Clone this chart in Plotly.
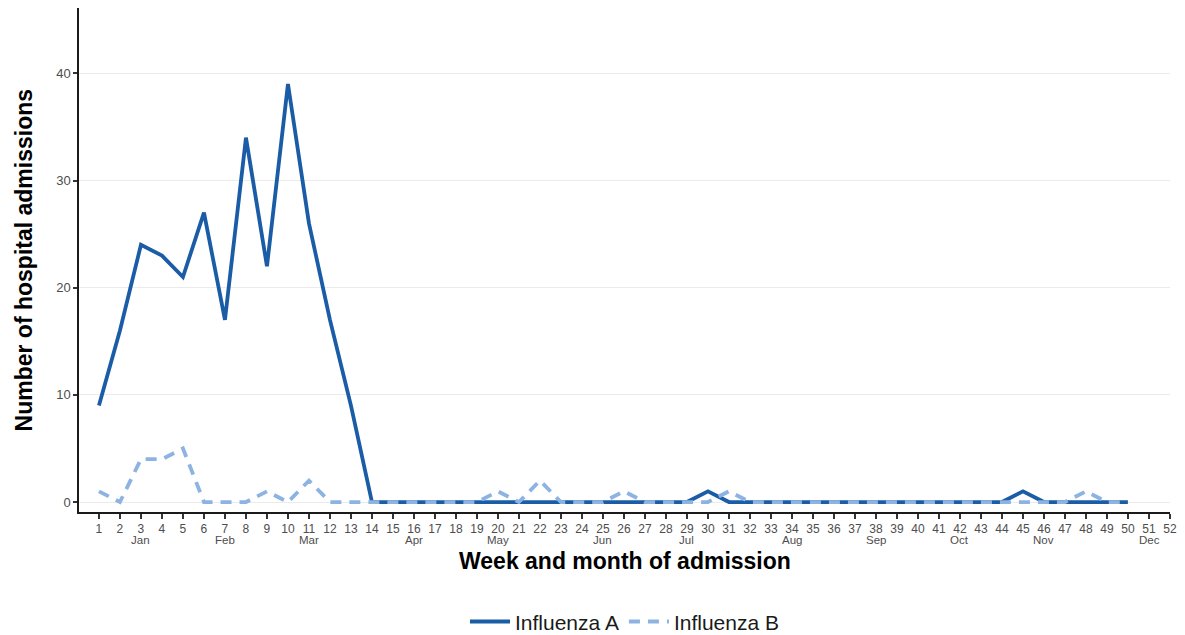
import plotly.graph_objects as go

weeks = list(range(1, 51))
flu_a = [9, 16, 24, 23, 21, 27, 17, 34, 22, 39, 26, 17, 9, 0, 0, 0, 0, 0, 0, 0,
         0, 0, 0, 0, 0, 0, 0, 0, 0, 1, 0, 0, 0, 0, 0, 0, 0, 0, 0, 0,
         0, 0, 0, 0, 1, 0, 0, 0, 0, 0]
flu_b = [1, 0, 4, 4, 5, 0, 0, 0, 1, 0, 2, 0, 0, 0, 0, 0, 0, 0, 0, 1,
         0, 2, 0, 0, 0, 1, 0, 0, 0, 0, 1, 0, 0, 0, 0, 0, 0, 0, 0, 0,
         0, 0, 0, 0, 0, 0, 0, 1, 0, 0]
tick_weeks = list(range(1, 53))
month_weeks = [3, 7, 11, 16, 20, 25, 29, 34, 38, 42, 46, 51]
month_names = ["Jan", "Feb", "Mar", "Apr", "May", "Jun",
               "Jul", "Aug", "Sep", "Oct", "Nov", "Dec"]
y_ticks = [0, 10, 20, 30, 40]

FONT = "Liberation Sans, Arial, sans-serif"
fig = go.Figure()
fig.add_trace(go.Scatter(x=weeks, y=flu_a, mode="lines", name="Influenza A",
                         line=dict(color="#1A5DA6", width=3.8)))
fig.add_trace(go.Scatter(x=weeks, y=flu_b, mode="lines", name="Influenza B",
                         line=dict(color="#8DB3E2", width=3.8, dash="11px,8px")))

annotations = [
    dict(text="<b>Week and month of admission</b>", xref="paper", yref="paper",
         x=0.5, y=-0.098, xanchor="center", yanchor="middle", showarrow=False,
         font=dict(size=23, color="black", family=FONT)),
    dict(text="<b>Number of hospital admissions</b>", xref="paper", yref="paper",
         x=-0.05, y=0.5, xanchor="center", yanchor="middle", textangle=-90, showarrow=False,
         font=dict(size=23, color="black", family=FONT)),
]
for w, m in zip(month_weeks, month_names):
    annotations.append(dict(text=m, x=w, xref="x", y=-0.0556, yref="paper",
                            xanchor="center", yanchor="middle", showarrow=False,
                            font=dict(size=11.5, color="#4D4D4D", family=FONT)))

fig.update_layout(
    width=1177, height=627,
    margin=dict(l=71, r=15, t=0, b=123, autoexpand=False),
    paper_bgcolor="white", plot_bgcolor="white",
    font=dict(family=FONT, color="#4D4D4D"),
    showlegend=True,
    legend=dict(orientation="h", x=0.5, xanchor="center", y=-0.218, yanchor="middle",
                font=dict(size=21, color="#1A1A1A"), itemwidth=40),
    xaxis=dict(range=[0.05, 52.0], tickmode="array", tickvals=tick_weeks,
               ticktext=[str(w) for w in tick_weeks],
               showgrid=False, zeroline=False, showline=True, linecolor="#1A1A1A", linewidth=1.5,
               ticks="outside", ticklen=5, tickcolor="#333333", tickwidth=1.5,
               tickfont=dict(size=12, color="#4D4D4D"), tickangle=0, automargin=False),
    yaxis=dict(range=[-0.93, 46.1], tickmode="array", tickvals=y_ticks,
               showgrid=True, gridcolor="#EBEBEB", gridwidth=1, zeroline=False,
               showline=True, linecolor="#1A1A1A", linewidth=1.5,
               ticks="outside", ticklen=4, tickcolor="#333333", tickwidth=1.5,
               tickfont=dict(size=13, color="#4D4D4D"), automargin=False),
    annotations=annotations,
)

fig.write_html("out.html")
